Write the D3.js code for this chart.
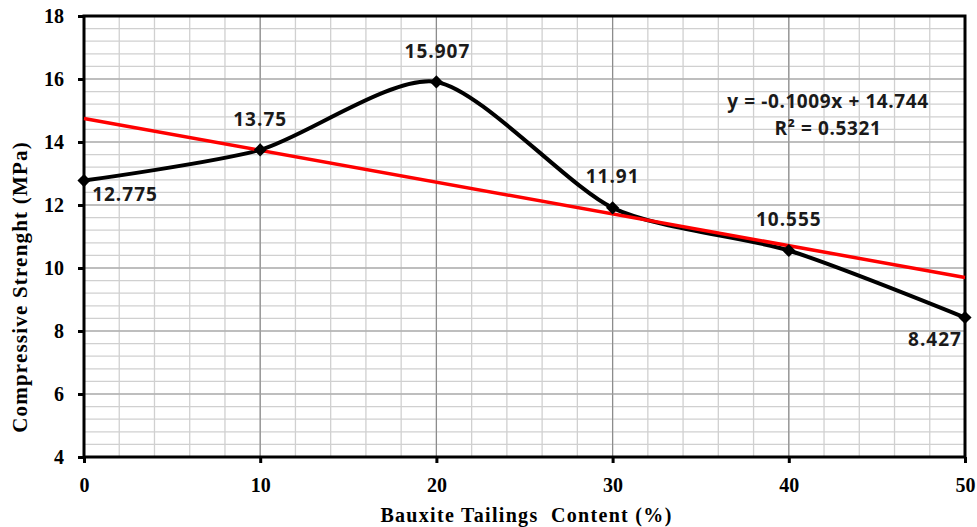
<!DOCTYPE html>
<html>
<head>
<meta charset="utf-8">
<script src="https://cdn.jsdelivr.net/npm/d3@7"></script>
<style>
  body { margin: 0; background: #fff; }
</style>
</head>
<body>
<div id="chart"></div>
<script>
// Data
var contents = [0, 10, 20, 30, 40, 50];
var strengths = [12.775, 13.75, 15.907, 11.91, 10.555, 8.427];
var pointLabels = ["12.775", "13.75", "15.907", "11.91", "10.555", "8.427"];
var xTicks = [0, 10, 20, 30, 40, 50];
var yTicks = [4, 6, 8, 10, 12, 14, 16, 18];
var trendSlope = -0.1009;
var trendIntercept = 14.744;
var equationLines = ["y = -0.1009x + 14.744", "R\u00b2 = 0.5321"];

var svgWidth = 977;
var svgHeight = 527;

var margin = { top: 16, right: 12, bottom: 70, left: 84 };
var chartWidth = svgWidth - margin.left - margin.right;
var chartHeight = svgHeight - margin.top - margin.bottom;

var svg = d3.select("#chart")
    .append("svg")
    .attr("width", svgWidth)
    .attr("height", svgHeight);

var chartGroup = svg.append("g")
    .attr("transform", `translate(${margin.left}, ${margin.top})`);

var xScale = d3.scaleLinear().domain([0, 50]).range([0, chartWidth]);
var yScale = d3.scaleLinear().domain([4, 18]).range([chartHeight, 0]);

// minor gridlines
var xMinor = d3.range(0, 50.01, 2);
var yMinor = d3.range(4, 18.01, 0.4);

chartGroup.selectAll(".vminor")
    .data(xMinor)
    .enter()
    .append("line")
    .attr("x1", d => xScale(d)).attr("x2", d => xScale(d))
    .attr("y1", 0).attr("y2", chartHeight)
    .attr("stroke", "#d0d0d0")
    .attr("stroke-width", 1.3);

chartGroup.selectAll(".hminor")
    .data(yMinor)
    .enter()
    .append("line")
    .attr("y1", d => yScale(d)).attr("y2", d => yScale(d))
    .attr("x1", 0).attr("x2", chartWidth)
    .attr("stroke", "#d0d0d0")
    .attr("stroke-width", 1.3);

// major gridlines
chartGroup.selectAll(".vmajor")
    .data(xTicks)
    .enter()
    .append("line")
    .attr("x1", d => xScale(d)).attr("x2", d => xScale(d))
    .attr("y1", 0).attr("y2", chartHeight)
    .attr("stroke", "#8c8c8c")
    .attr("stroke-width", 1.2);

chartGroup.selectAll(".hmajor")
    .data(yTicks)
    .enter()
    .append("line")
    .attr("y1", d => yScale(d)).attr("y2", d => yScale(d))
    .attr("x1", 0).attr("x2", chartWidth)
    .attr("stroke", "#a0a0a0")
    .attr("stroke-width", 1.2);

// frame
chartGroup.append("rect")
    .attr("width", chartWidth)
    .attr("height", chartHeight)
    .attr("fill", "none")
    .attr("stroke", "black")
    .attr("stroke-width", 3);

// axes
var bottomAxis = d3.axisBottom(xScale).tickValues(xTicks).tickSize(6).tickPadding(15);
var leftAxis = d3.axisLeft(yScale).tickValues(yTicks).tickSize(6).tickPadding(14);

var xAxisG = chartGroup.append("g")
    .attr("transform", `translate(0, ${chartHeight})`)
    .call(bottomAxis);
var yAxisG = chartGroup.append("g").call(leftAxis);

[xAxisG, yAxisG].forEach(function(g) {
    g.select(".domain").remove();
    g.selectAll(".tick line").attr("stroke", "black").attr("stroke-width", 3);
    g.selectAll(".tick text")
        .attr("font-family", "Liberation Serif, serif")
        .attr("font-weight", "bold")
        .attr("font-size", "20px")
        .attr("fill", "black");
});

// smoothed data line
var points = contents.map((c, i) => [c, strengths[i]]);
var line = d3.line()
    .x(d => xScale(d[0]))
    .y(d => yScale(d[1]))
    .curve(d3.curveCardinal.tension(0.25));

chartGroup.append("path")
    .datum(points)
    .attr("d", line)
    .attr("fill", "none")
    .attr("stroke", "black")
    .attr("stroke-width", 4);

// trend line
chartGroup.append("line")
    .attr("x1", xScale(0))
    .attr("y1", yScale(trendIntercept))
    .attr("x2", xScale(50))
    .attr("y2", yScale(trendIntercept + trendSlope * 50))
    .attr("stroke", "#ff0000")
    .attr("stroke-width", 3.5);

// diamond markers
chartGroup.selectAll(".marker")
    .data(points)
    .enter()
    .append("path")
    .attr("d", d3.symbol().type(d3.symbolDiamond2).size(110))
    .attr("transform", d => `translate(${xScale(d[0])}, ${yScale(d[1])})`)
    .attr("fill", "black");

// data labels
var labelOffsets = [[41, 20], [0, -24], [1, -24], [0, -25], [0, -25], [-30, 28]];
chartGroup.selectAll(".label")
    .data(points)
    .enter()
    .append("text")
    .attr("x", (d, i) => xScale(d[0]) + labelOffsets[i][0])
    .attr("y", (d, i) => yScale(d[1]) + labelOffsets[i][1])
    .attr("text-anchor", "middle")
    .attr("font-family", "Open Sans, sans-serif")
    .attr("font-weight", "bold")
    .attr("font-size", "19px")
    .attr("letter-spacing", "1px")
    .attr("fill", "#1a1a1a")
    .text((d, i) => pointLabels[i]);

// equation
chartGroup.selectAll(".eq")
    .data(equationLines)
    .enter()
    .append("text")
    .attr("x", 828 - margin.left)
    .attr("y", (d, i) => 108 - margin.top + i * 27)
    .attr("text-anchor", "middle")
    .attr("font-family", "Open Sans, sans-serif")
    .attr("font-weight", "bold")
    .attr("font-size", "19px")
    .attr("letter-spacing", "0.6px")
    .attr("fill", "#1a1a1a")
    .text(d => d);

// axis titles
chartGroup.append("text")
    .attr("transform", `translate(${chartWidth / 2 + 2}, ${chartHeight + 65})`)
    .attr("text-anchor", "middle")
    .attr("font-family", "Liberation Serif, serif")
    .attr("font-weight", "bold")
    .attr("font-size", "20px")
    .attr("letter-spacing", "1.3px")
    .style("white-space", "pre")
    .attr("fill", "black")
    .text("Bauxite Tailings  Content (%)");

chartGroup.append("text")
    .attr("transform", "rotate(-90)")
    .attr("y", 27 - margin.left)
    .attr("x", -(287 - margin.top))
    .attr("text-anchor", "middle")
    .attr("font-family", "Liberation Serif, serif")
    .attr("font-weight", "bold")
    .attr("font-size", "21px")
    .attr("letter-spacing", "1.2px")
    .attr("fill", "black")
    .text("Compressive Strenght (MPa)");
</script>
</body>
</html>
